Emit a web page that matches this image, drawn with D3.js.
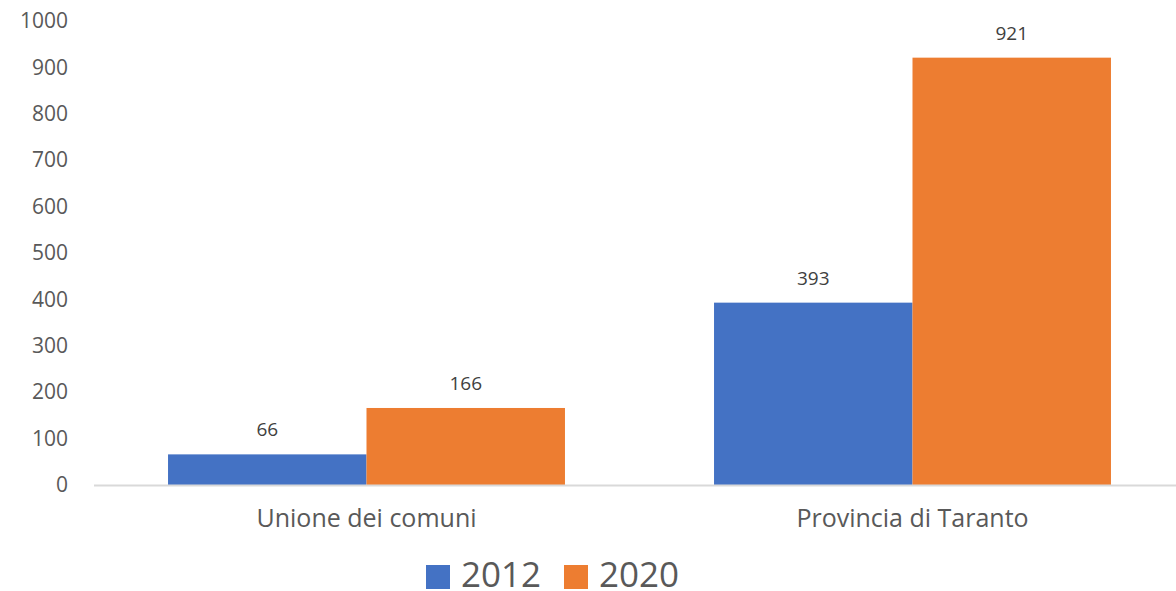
<!DOCTYPE html>
<html>
<head>
<meta charset="utf-8">
<script src="https://cdn.jsdelivr.net/npm/d3@7"></script>
<style>
  body { margin: 0; background: #fff; }
  text { font-family: "Open Sans", "Noto Sans", sans-serif; }
</style>
</head>
<body>
<div id="chart"></div>
<script>
// * Data
var categories = ["Unione dei comuni", "Provincia di Taranto"];
var seriesNames = ["2012", "2020"];
var values2012 = [66, 393];
var values2020 = [166, 921];
var yTicks = [0, 100, 200, 300, 400, 500, 600, 700, 800, 900, 1000];
var colors = ["#4472c4", "#ed7d31"];

var width = 1176, height = 591;

var svg = d3.select("#chart").append("svg")
  .attr("width", width)
  .attr("height", height);

// * Scales
var x0 = d3.scaleBand().domain(categories).range([93.5, 1185.5])
  .paddingInner(0.273).paddingOuter(0.1365);
var x1 = d3.scaleBand().domain(seriesNames).range([0, x0.bandwidth()]);
var y = d3.scaleLinear().domain([0, 1000]).range([485, 21]);

var rows = categories.map(function (c, i) {
  return { cat: c, vals: [values2012[i], values2020[i]] };
});

// * y axis labels (no line, no ticks)
var yAxis = svg.append("g")
  .attr("transform", "translate(68,0)")
  .call(d3.axisLeft(y).tickValues(yTicks).tickFormat(d3.format("d")).tickSize(0).tickPadding(0));
yAxis.select(".domain").remove();
yAxis.selectAll("text")
  .attr("fill", "#595959")
  .style("font-size", "21px")
  .style("font-family", "'Open Sans', sans-serif");

// * bars
var groups = svg.selectAll(".grp").data(rows).enter().append("g")
  .attr("transform", function (d) { return "translate(" + x0(d.cat) + ",0)"; });

groups.selectAll("rect").data(function (d) { return d.vals; }).enter()
  .append("rect")
  .attr("x", function (d, i) { return x1(seriesNames[i]); })
  .attr("width", x1.bandwidth())
  .attr("y", function (d) { return y(d); })
  .attr("height", function (d) { return y(0) - y(d); })
  .attr("fill", function (d, i) { return colors[i]; });

groups.selectAll(".lbl").data(function (d) { return d.vals; }).enter()
  .append("text")
  .attr("class", "lbl")
  .attr("x", function (d, i) { return x1(seriesNames[i]) + x1.bandwidth() / 2; })
  .attr("y", function (d) { return y(d) - 18; })
  .attr("text-anchor", "middle")
  .attr("fill", "#404040")
  .style("font-size", "19px")
  .text(function (d) { return d; });

// * x axis
var xAxis = svg.append("g")
  .attr("transform", "translate(0," + y(0) + ")")
  .call(d3.axisBottom(x0).tickSize(0).tickPadding(24));
xAxis.select(".domain").attr("stroke", "#d9d9d9").attr("stroke-width", 2);
xAxis.selectAll("text")
  .attr("fill", "#595959")
  .style("font-size", "25px")
  .style("font-family", "'Open Sans', sans-serif");

// * legend
var legend = svg.append("g");
var legX = [426, 564];
seriesNames.forEach(function (s, i) {
  legend.append("rect")
    .attr("x", legX[i]).attr("y", 565)
    .attr("width", 24).attr("height", 24)
    .attr("fill", colors[i]);
  legend.append("text")
    .attr("x", legX[i] + 35).attr("y", 587)
    .attr("fill", "#595959")
    .style("font-size", "35px")
    .text(s);
});
</script>
</body>
</html>
